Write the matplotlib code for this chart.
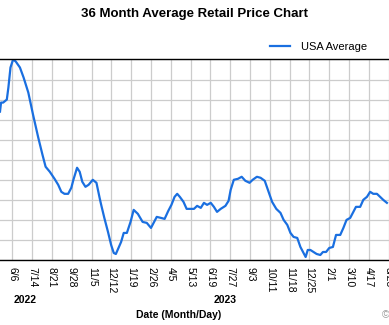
"""36 month average retail price chart (cropped view)."""
import matplotlib
matplotlib.use("Agg")
import matplotlib.pyplot as plt
import pandas as pd

plt.rcParams["font.family"] = ["Liberation Sans", "DejaVu Sans"]

# ---------------------------------------------------------------------------
# Data
# ---------------------------------------------------------------------------
dates = [
    "2022-05-14", "2022-05-16", "2022-05-20", "2022-05-27", "2022-05-30",
    "2022-06-03", "2022-06-08", "2022-06-13", "2022-06-21", "2022-06-28",
    "2022-07-07", "2022-07-16", "2022-07-26", "2022-08-03", "2022-08-09",
    "2022-08-17", "2022-08-26", "2022-09-02", "2022-09-08", "2022-09-14",
    "2022-09-21", "2022-09-27", "2022-10-01", "2022-10-08", "2022-10-13",
    "2022-10-18", "2022-10-24", "2022-10-30", "2022-11-07", "2022-11-14",
    "2022-11-20", "2022-11-23", "2022-11-29", "2022-12-06", "2022-12-12",
    "2022-12-17", "2022-12-21", "2022-12-26", "2022-12-31", "2023-01-05",
    "2023-01-11", "2023-01-18", "2023-01-24", "2023-02-01", "2023-02-10",
    "2023-02-18", "2023-02-26", "2023-03-04", "2023-03-09", "2023-03-17",
    "2023-03-24", "2023-03-31", "2023-04-06", "2023-04-12", "2023-04-17",
    "2023-04-22", "2023-04-29", "2023-05-05", "2023-05-11", "2023-05-19",
    "2023-05-25", "2023-06-01", "2023-06-07", "2023-06-13", "2023-06-20",
    "2023-06-26", "2023-07-02", "2023-07-09", "2023-07-18", "2023-07-24",
    "2023-07-28", "2023-08-03", "2023-08-11", "2023-08-18", "2023-08-25",
    "2023-09-02", "2023-09-08", "2023-09-16", "2023-09-23", "2023-10-01",
    "2023-10-09", "2023-10-15", "2023-10-23", "2023-10-31", "2023-11-06",
    "2023-11-13", "2023-11-19", "2023-11-25", "2023-12-02", "2023-12-08",
    "2023-12-13", "2023-12-18", "2023-12-22", "2023-12-27", "2024-01-02",
    "2024-01-08", "2024-01-15", "2024-01-20", "2024-01-26", "2024-02-01",
    "2024-02-08", "2024-02-14", "2024-02-22", "2024-02-28", "2024-03-05",
    "2024-03-12", "2024-03-18", "2024-03-23", "2024-03-31", "2024-04-06",
    "2024-04-13", "2024-04-19", "2024-04-25", "2024-05-02", "2024-05-08",
    "2024-05-14", "2024-05-21",
]
usa_average = [
    4.48, 4.57, 4.57, 4.60, 4.72, 4.92, 5.00, 4.98, 4.92, 4.82,
    4.67, 4.45, 4.22, 4.05, 3.93, 3.88, 3.81, 3.75, 3.68, 3.66,
    3.66, 3.72, 3.80, 3.92, 3.88, 3.78, 3.73, 3.75, 3.80, 3.77,
    3.62, 3.55, 3.42, 3.28, 3.15, 3.07, 3.06, 3.12, 3.18, 3.27,
    3.27, 3.38, 3.50, 3.46, 3.38, 3.37, 3.32, 3.38, 3.43, 3.42,
    3.41, 3.49, 3.55, 3.63, 3.66, 3.63, 3.58, 3.51, 3.51, 3.51,
    3.54, 3.52, 3.57, 3.55, 3.57, 3.53, 3.48, 3.51, 3.54, 3.59,
    3.70, 3.80, 3.81, 3.83, 3.79, 3.77, 3.80, 3.83, 3.82, 3.79,
    3.67, 3.58, 3.51, 3.47, 3.40, 3.35, 3.27, 3.23, 3.22, 3.13,
    3.08, 3.03, 3.10, 3.10, 3.08, 3.06, 3.05, 3.08, 3.08, 3.12,
    3.13, 3.25, 3.25, 3.32, 3.40, 3.42, 3.48, 3.53, 3.53, 3.60,
    3.63, 3.68, 3.66, 3.66, 3.63, 3.60, 3.57,
]
tick_dates = [
    "2022-06-06", "2022-07-14", "2022-08-21", "2022-09-28", "2022-11-05",
    "2022-12-12", "2023-01-19", "2023-02-26", "2023-04-05", "2023-05-13",
    "2023-06-19", "2023-07-27", "2023-09-03", "2023-10-11", "2023-11-18",
    "2023-12-25", "2024-02-01", "2024-03-10", "2024-04-17", "2024-05-25",
]
x_range = ["2022-05-14", "2024-05-22"]
y_range = [3.0, 5.0]

x = pd.to_datetime(dates)
ticks = pd.to_datetime(tick_dates)

fig = plt.figure(figsize=(3.89, 3.25), dpi=100)
ax = fig.add_axes([0.0, 0.2, 1.0, 0.617])

ax.plot(x, usa_average, color="#1a6fe0", lw=1.6, label="USA Average")

ax.set_xlim(pd.to_datetime(x_range))
ax.set_ylim(y_range)
ax.set_xticks(ticks)
ax.set_xticklabels([f"{d.month}/{d.day}" for d in ticks], rotation=-90,
                   fontsize=7.5, va="top", ha="center")
ax.set_yticks([y_range[0] + 0.2 * i for i in range(11)])
ax.tick_params(axis="x", length=0, pad=5)
ax.tick_params(axis="y", length=0, labelleft=False)
ax.grid(True, color="#cccccc", lw=0.9)
ax.set_axisbelow(True)
for side in ("left", "right"):
    ax.spines[side].set_visible(False)
for side in ("top", "bottom"):
    ax.spines[side].set_color("black")
    ax.spines[side].set_linewidth(1.0)

fig.text(0.5, 0.958, "36 Month Average Retail Price Chart", ha="center",
         va="center", fontsize=9.5, fontweight="bold")
ax.legend(loc="lower left", bbox_to_anchor=(0.675, 1.0), frameon=False,
          fontsize=8, handlelength=1.8, handletextpad=1.0, borderpad=0.2)

fig.text(0.064, 0.077, "2022", ha="center", va="center", fontsize=7.5,
         fontweight="bold")
fig.text(0.578, 0.077, "2023", ha="center", va="center", fontsize=7.5,
         fontweight="bold")
fig.text(0.458, 0.031, "Date (Month/Day)", ha="center", va="center",
         fontsize=7.5, fontweight="bold")
fig.text(0.982, 0.031, "\u00a9 ", ha="left", va="center", fontsize=7.5,
         color="#999999")

fig.savefig("out.png", dpi=100)
